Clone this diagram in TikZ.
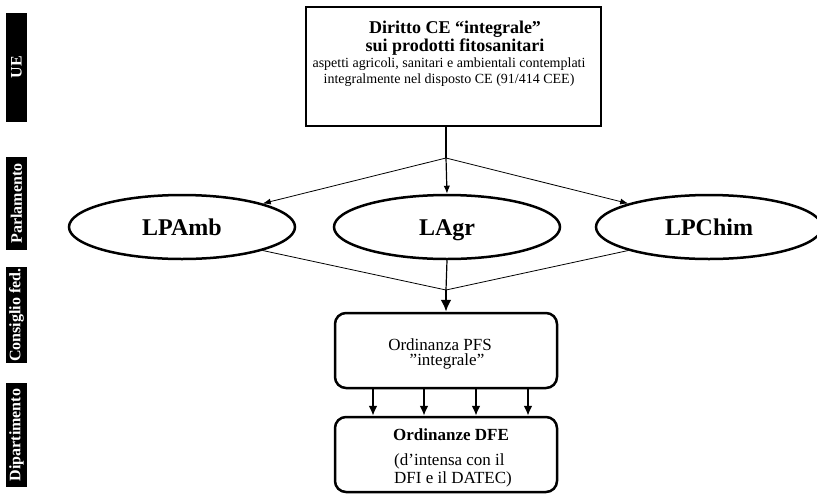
\documentclass[tikz,border=0pt]{standalone}
\usepackage{fontspec}
\setmainfont{Liberation Serif}
\usetikzlibrary{arrows.meta,shapes.geometric,calc}
\begin{document}
\begin{tikzpicture}[x=1pt,y=-1pt,
  side/.style={rotate=90,fill=black,text=white,font=\fontsize{16}{16}\selectfont\bfseries,inner sep=0pt,minimum height=21pt},
  law/.style={ellipse,draw,line width=2.5pt,minimum width=226pt,minimum height=64pt,inner sep=0pt,text height=16pt,text depth=0pt,font=\fontsize{24}{24}\selectfont\bfseries},
  rbox/.style={draw,rounded corners=11pt,line width=2.5pt,minimum width=222pt,minimum height=75pt,inner sep=0pt},
  ttl/.style={font=\fontsize{18}{15}\selectfont\bfseries,inner sep=0pt,anchor=base,align=center},
  sml/.style={font=\fontsize{14}{16}\selectfont,inner sep=0pt,anchor=base,align=center},
  txt/.style={font=\fontsize{17}{17}\selectfont,inner sep=0pt,anchor=base},
  thinarrow/.style={line width=0.8pt,-{Latex[length=8pt,width=6pt]}},
  midarrow/.style={line width=1.2pt,-{Latex[length=8pt,width=6.5pt]}},
  fatarrow/.style={line width=2.2pt,-{Latex[length=10pt,width=9pt]}},
  biglead/.style={line width=2.6pt,-{Latex[length=12pt,width=11pt]}}
]
\useasboundingbox (0,0) rectangle (817,499);

% side labels
\node[side,minimum width=109pt] (sUE) at (16.5,67) {UE};
\node[side,minimum width=93pt] (sPar) at (16.5,203.5) {Parlamento};
\node[side,minimum width=96pt] (sCons) at (16.5,315) {Consiglio fed.};
\node[side,minimum width=104pt] (sDip) at (16.5,435) {Dipartimento};

% top box
\node[draw,line width=1.2pt,minimum width=295pt,minimum height=119pt,inner sep=0pt] (top) at (453.5,66.5) {};
\node[ttl] (title) at (455,51) {Diritto CE “integrale”\\sui prodotti fitosanitari};
\node[sml] (sub) at (449,83) {aspetti agricoli, sanitari e ambientali contemplati\\integralmente nel disposto CE (91/414 CEE)};

% laws
\node[law] (lpamb) at (182,227) {LPAmb};
\node[law] (lagr) at (447,227) {LAgr};
\node[law] (lpchim) at (709,227) {LPChim};

% PFS ordinance
\node[rbox] (pfs) at (446,350.5) {};
\node[txt] (p1) at (440,350) {Ordinanza PFS};
\node[txt] (p2) at (447,365.5) {”integrale”};

% DFE ordinances
\node[rbox] (dfe) at (446,454.5) {};
\node[txt,font=\fontsize{17}{17}\selectfont\bfseries] (d1) at (451,440) {Ordinanze DFE};
\node[txt,anchor=base west] (d2) at (394,465) {(d’intensa con il};
\node[txt,anchor=base west] (d3) at (394,483) {DFI e il DATEC)};

% connectors
\coordinate (j1) at (446,158);
\coordinate (j2) at (446,290);
\draw[line width=1.8pt] (top.south -| j1) -- (j1);
\draw[thinarrow] (j1) -- (lpamb.north east);
\draw[midarrow] (j1) -- (lagr.north);
\draw[thinarrow] (j1) -- (lpchim.north west);
\draw[line width=0.8pt] (lpamb.south east) -- (j2) -- (lpchim.south west);
\draw[line width=1.2pt] (lagr.south) -- (j2);
\draw[biglead] (j2) -- (pfs.north);
\foreach \x in {373,424,476,528}
  \draw[fatarrow] (pfs.south -| \x,0) -- (dfe.north -| \x,0);
\end{tikzpicture}
\end{document}
